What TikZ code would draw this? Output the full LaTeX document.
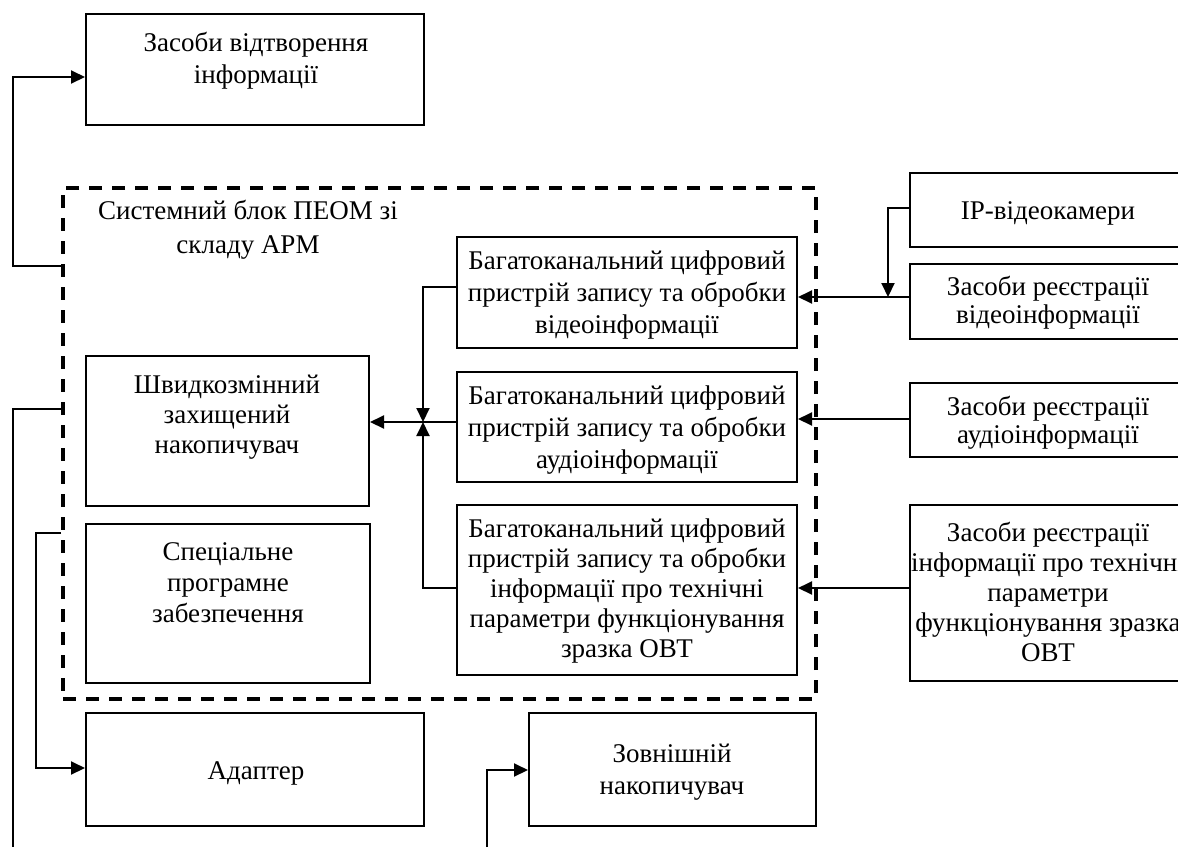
\documentclass[tikz,border=0pt]{standalone}
\usepackage{fontspec}
\setmainfont{Liberation Serif}
\usetikzlibrary{arrows.meta,positioning}

\tikzset{
  blok/.style={draw, line width=1pt, inner sep=0pt},
  ramka/.style={draw, line width=2pt, dash pattern=on 6.5pt off 5pt, inner sep=0pt},
  napys/.style={align=center, inner sep=0pt, font=\fontsize{13.5}{16}\selectfont},
  vuzkyj/.style={font=\fontsize{13.5}{14}\selectfont},
  zvjazok/.style={line width=1pt},
  strilka/.style={line width=1pt, -{Triangle[length=7pt,width=6.5pt]}},
}

\begin{document}
\begin{tikzpicture}[x=0.5pt,y=-0.5pt]
\useasboundingbox (0,0) rectangle (1178,847);
\clip (0,0) rectangle (1178,847);

% ramka systemnogo bloku
\node[ramka, minimum width=376.5pt, minimum height=255.5pt] (sblok) at (439.5,443.5) {};
\node[napys, font=\fontsize{13.5}{17}\selectfont] (sblokT) at (248,230) {Системний блок ПЕОМ зі\\складу АРМ};

% bloky
\node[blok, minimum width=169pt, minimum height=55.5pt] (zasvid) at (255,69.5) {};
\node[napys] (zasvidT) at (256,61) {Засоби відтворення\\інформації};

\node[blok, minimum width=170pt, minimum height=55.5pt] (bvid) at (627,292.5) {};
\node[napys] (bvidT) at (627,295) {Багатоканальний цифровий\\пристрій запису та обробки\\відеоінформації};
\node[blok, minimum width=170pt, minimum height=55pt] (baud) at (627,427) {};
\node[napys] (baudT) at (627,430) {Багатоканальний цифровий\\пристрій запису та обробки\\аудіоінформації};
\node[blok, minimum width=170pt, minimum height=85pt] (btex) at (627,590) {};
\node[napys, font=\fontsize{13.5}{15}\selectfont] (btexT) at (627,591) {Багатоканальний цифровий\\пристрій запису та обробки\\інформації про технічні\\параметри функціонування\\зразка ОВТ};

\node[blok, minimum width=141.5pt, minimum height=75pt] (nakop) at (227.5,431) {};
\node[napys, font=\fontsize{13.5}{15}\selectfont] (nakopT) at (227,417) {Швидкозмінний\\захищений\\накопичувач};
\node[blok, minimum width=142pt, minimum height=79.5pt] (spz) at (228,603.5) {};
\node[napys, font=\fontsize{13.5}{15.5}\selectfont] (spzT) at (228,583) {Спеціальне\\програмне\\забезпечення};

\node[blok, minimum width=169pt, minimum height=56.5pt] (adapt) at (255,769.5) {};
\node[napys] (adaptT) at (256,773) {Адаптер};
\node[blok, minimum width=143.5pt, minimum height=56.5pt] (zovn) at (672.5,769.5) {};
\node[napys] (zovnT) at (672,772) {Зовнішній\\накопичувач};

% dzherela praworuch
\node[blok, minimum width=138pt, minimum height=37pt] (ipk) at (1048,210) {};
\node[napys] (ipkT) at (1048,213) {IP-відеокамери};
\node[blok, minimum width=138pt, minimum height=37.5pt] (zrvid) at (1048,301.5) {};
\node[napys, vuzkyj] (zrvidT) at (1048,303) {Засоби реєстрації\\відеоінформації};
\node[blok, minimum width=138pt, minimum height=37pt] (zraud) at (1048,420) {};
\node[napys, vuzkyj] (zraudT) at (1048,423) {Засоби реєстрації\\аудіоінформації};
\node[blok, minimum width=138pt, minimum height=88pt] (zrtex) at (1048,593) {};
\node[napys, font=\fontsize{13.5}{15}\selectfont] (zrtexT) at (1048,592) {Засоби реєстрації\\інформації про технічні\\параметри\\функціонування зразка\\ОВТ};

% tochky
\coordinate (vuzol) at (423,422);
\coordinate (kam) at (888,297);
\coordinate (niz1) at (13,847);
\coordinate (niz2) at (487,847);

% zv'jazky
\draw[strilka] (sblok.west |- 0,266) -- (13,266) |- (zasvid.west |- 0,77);
\draw[zvjazok] (sblok.west |- 0,409) -| (niz1);
\draw[strilka] (sblok.west |- 0,533) -| (36,768) -- (adapt.west |- 0,768);
\draw[strilka] (niz2) |- (zovn.west |- 0,770);

\draw[strilka] (ipk.west |- 0,208) -| (kam);
\draw[strilka] (zrvid.west |- kam) -- (bvid.east |- kam);
\draw[strilka] (zraud.west |- 0,419) -- (baud.east |- 0,419);
\draw[strilka] (zrtex.west |- 0,588) -- (btex.east |- 0,588);

\draw[strilka] (bvid.west |- 0,287) -| (vuzol);
\draw[strilka] (btex.west |- 0,588) -| (vuzol);
\draw[strilka] (baud.west |- vuzol) -- (nakop.east |- vuzol);
\end{tikzpicture}
\end{document}
